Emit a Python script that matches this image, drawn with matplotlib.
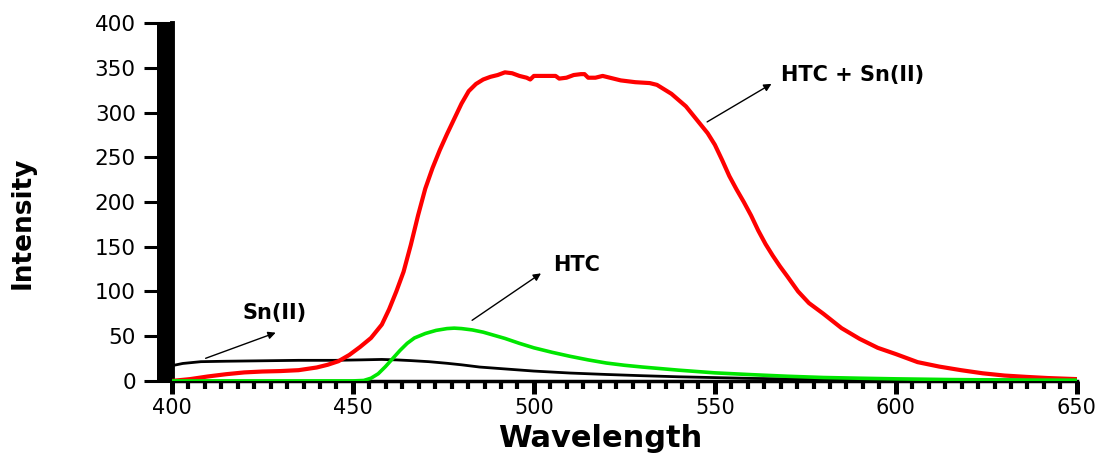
import matplotlib
matplotlib.use('Agg')
import matplotlib.pyplot as plt
from matplotlib.ticker import MultipleLocator, AutoMinorLocator

# HTC + Sn(II)
wl_mix = [400, 405, 410, 415, 420, 425, 430, 435, 440, 443, 446, 449, 452, 455, 458,
          460, 462, 464, 466, 468, 470, 472, 474, 476, 478, 480, 482, 484, 486, 488,
          490, 492, 494, 496, 498, 499, 500, 502, 504, 506, 507, 509, 511, 513, 514,
          515, 517, 519, 521, 524, 528, 532, 534, 536, 538, 540, 542, 544, 546, 548,
          550, 552, 554, 556, 558, 560, 562, 564, 566, 568, 570, 573, 576, 580, 585,
          590, 595, 600, 606, 612, 618, 624, 630, 636, 642, 650]
int_mix = [0, 2, 5, 7.5, 9.5, 10.5, 11, 12, 15, 18, 22, 29, 38, 48, 63,
           80, 100, 122, 152, 185, 215, 238, 258, 276, 293, 310, 324, 332, 337, 340,
           342, 345, 344, 341, 339, 337, 341, 341, 341, 341, 338, 339, 342, 343, 343,
           339, 339, 341, 339, 336, 334, 333, 331, 326, 321, 314, 307, 297, 287, 277,
           264, 247, 229, 214, 200, 185, 168, 153, 140, 128, 117, 100, 87, 75, 59,
           47, 37, 30, 21, 16, 12, 8.5, 6, 4.5, 3.2, 2]

# HTC
wl_htc = [400, 450, 453, 455, 457, 459, 461, 463, 465, 467, 470, 473, 476, 478, 480,
          483, 486, 489, 492, 496, 500, 505, 510, 515, 520, 525, 530, 540, 550, 560,
          570, 580, 590, 600, 615, 630, 650]
int_htc = [0, 0, 0.5, 3, 8, 16, 25, 34, 42, 48, 53, 56.5, 58.5, 59, 58.5,
           57, 54.5, 51, 47.5, 42, 37, 32, 27.5, 23.5, 20, 17.5, 15.5, 12, 9, 7,
           5.2, 3.8, 3, 2.3, 1.5, 1, 0.8]

# Sn(II)
wl_sn = [400, 403, 408, 415, 425, 435, 445, 452, 458, 462, 466, 471, 476, 480, 485,
         490, 495, 500, 510, 520, 530, 540, 550, 560, 575, 600, 625, 650]
int_sn = [17, 19.5, 21.5, 22, 22.5, 23, 23, 23.5, 24, 23.5, 22.7, 21.5, 19.7, 18, 15.5,
          14, 12.5, 11, 8.8, 7.2, 5.8, 4.6, 3.7, 2.8, 2, 1.5, 1.2, 1]

fig = plt.figure(figsize=(11.09, 4.54), dpi=100)
ax = fig.add_axes([0.155, 0.161, 0.816, 0.788])

ax.plot(wl_sn, int_sn, color='black', lw=2, zorder=3)
ax.plot(wl_mix, int_mix, color='#ff0000', lw=3, zorder=4)
ax.plot(wl_htc, int_htc, color='#00e600', lw=2.6, zorder=5)

ax.set_xlim(400, 650)
ax.set_ylim(0, 400)

# Axes look
for side in ['top', 'right']:
    ax.spines[side].set_visible(False)
ax.spines['left'].set_linewidth(3.5)
ax.spines['bottom'].set_linewidth(2.5)

ax.xaxis.set_major_locator(MultipleLocator(50))
ax.xaxis.set_minor_locator(AutoMinorLocator(11))
ax.yaxis.set_major_locator(MultipleLocator(50))
ax.yaxis.set_minor_locator(MultipleLocator(2))

ax.tick_params(axis='x', which='major', direction='out', length=9, width=3.6, pad=3,
               labelsize=15)
ax.tick_params(axis='x', which='minor', direction='out', length=5.5, width=3)
ax.tick_params(axis='y', which='major', direction='out', length=20, width=2.2, pad=6,
               labelsize=15.5)
ax.tick_params(axis='y', which='minor', direction='out', length=11, width=1.5)

# Annotations
arrow = dict(arrowstyle='-|>', color='black', lw=1, mutation_scale=11)
ax.annotate('', xy=(429.4, 55), xytext=(408.6, 24.2), arrowprops=arrow)
ax.text(419.5, 75.6, 'Sn(II)', fontsize=15, fontweight='bold', va='center', ha='left')
ax.annotate('', xy=(502.6, 122), xytext=(482.3, 66), arrowprops=arrow)
ax.text(505.3, 129.6, 'HTC', fontsize=15, fontweight='bold', va='center', ha='left')
ax.annotate('', xy=(566.3, 333.7), xytext=(547.2, 288), arrowprops=arrow)
ax.text(568.4, 342, 'HTC + Sn(II)', fontsize=15, fontweight='bold', va='center', ha='left')

# Axis titles
fig.text(0.541, 0.002, 'Wavelength', fontsize=22, fontweight='bold',
         ha='center', va='bottom')
fig.text(0.02, 0.51, 'Intensity', fontsize=19, fontweight='bold', rotation=90,
         ha='center', va='center', family=['Liberation Sans Narrow', 'DejaVu Sans'])

fig.savefig('out.png', dpi=100)
